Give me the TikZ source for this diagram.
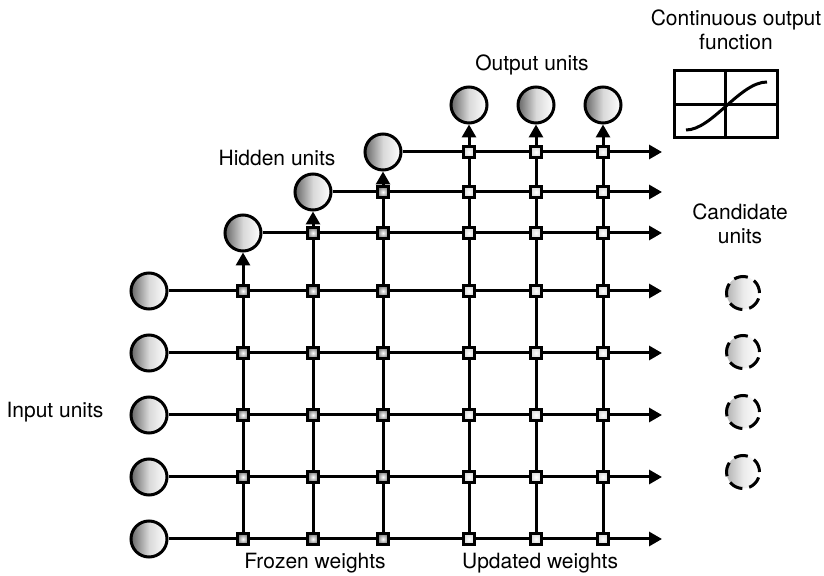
\documentclass[tikz,border=0pt]{standalone}
\usepackage{fontspec}
\setmainfont{TeX Gyre Heros}
\usetikzlibrary{arrows.meta}

\begin{document}
\begin{tikzpicture}[x=0.5pt,y=-0.5pt,>={Triangle[length=6.5pt,width=7pt]},line width=1.5pt,
  unit/.style={circle,draw,minimum size=18pt,inner sep=0pt,left color=black!60,right color=white,middle color=black!15},
  cand/.style={circle,draw,dash pattern=on 7pt off 3.5pt,minimum size=16.5pt,inner sep=0pt,left color=black!30,right color=white,middle color=black!8},
  frozen/.style={draw,minimum size=5.5pt,inner sep=0pt,inner color=white,outer color=black!50},
  updated/.style={draw,minimum size=5.5pt,inner sep=0pt,inner color=white,outer color=black!15},
  lbl/.style={font=\fontsize{10.5}{12}\selectfont,align=center}]
\useasboundingbox (0,0) rectangle (824,576);
\def\xend{662}
% ---- units ----
\foreach \i/\y in {1/291,2/353,3/415,4/477,5/539}{
  \node[unit] (in\i) at (149,\y) {};}
\node[unit] (h1) at (243,233) {};
\node[unit] (h2) at (313,192) {};
\node[unit] (h3) at (383,152) {};
\foreach \i/\x in {1/469,2/536,3/603}{
  \node[unit] (o\i) at (\x,105) {};}
\foreach \i/\y in {1/293,2/352,3/412,4/472}{
  \node[cand] (c\i) at (743,\y) {};}
\coordinate (end) at (\xend,0);
% ---- connections ----
\foreach \n in {in1,in2,in3,in4,in5,h1,h2,h3}{
  \draw[->] (\n) -- (\n -| end);}
\foreach \n in {h1,h2,h3,o1,o2,o3}{
  \draw[->] (\n |- in5) -- (\n);}
% ---- weights ----
\foreach \c in {h1,h2,h3}{
  \foreach \r in {1,...,5}{
    \node[frozen] (w-\c-in\r) at (\c |- in\r) {};}}
\node[frozen] (w-h2-h1) at (h2 |- h1) {};
\node[frozen] (w-h3-h1) at (h3 |- h1) {};
\node[frozen] (w-h3-h2) at (h3 |- h2) {};
\foreach \c in {o1,o2,o3}{
  \foreach \r in {h1,h2,h3,in1,in2,in3,in4,in5}{
    \node[updated] (w-\c-\r) at (\c |- \r) {};}}
% ---- output function ----
\draw (674,71) rectangle (777,138);
\draw (725.5,71) -- (725.5,138);
\draw (674,104.5) -- (777,104.5);
\draw (686,130) .. controls (712,130) and (740,82) .. (767,82);
% ---- labels ----
\node[lbl] (inlbl) at (55,412) {Input units};
\node[lbl] (hidlbl) at (277,158) {Hidden units};
\node[lbl] (outlbl) at (532,65) {Output units};
\node[lbl] (candlbl) at (740,224) {Candidate\\units};
\node[lbl] (fnlbl) at (736,30) {Continuous output\\function};
\node[lbl] (frzlbl) at (315,563) {Frozen weights};
\node[lbl] (updlbl) at (540,563) {Updated weights};
\end{tikzpicture}
\end{document}
